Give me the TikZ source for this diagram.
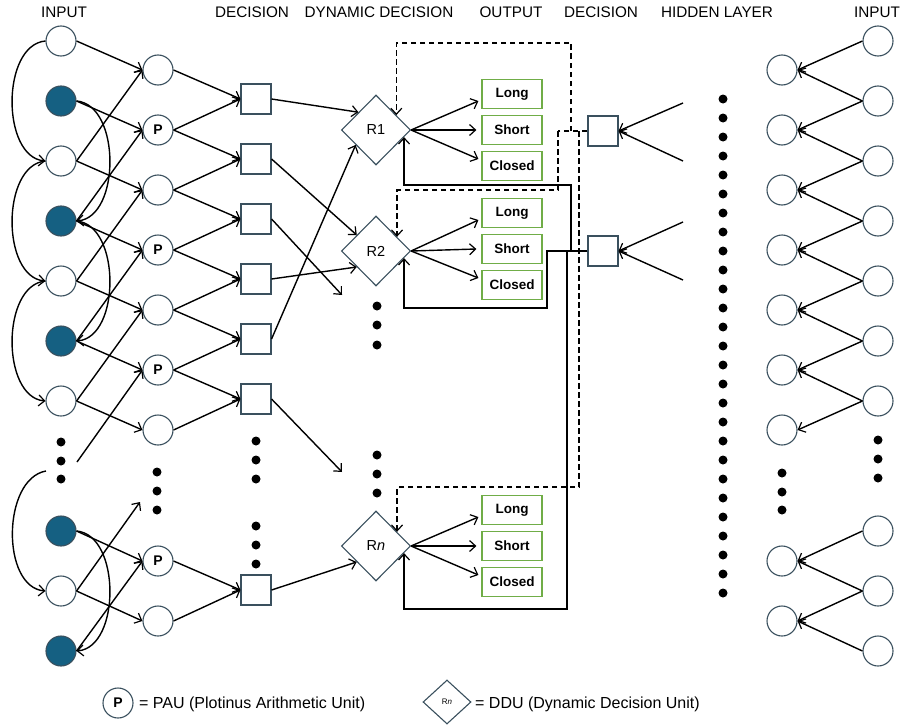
\documentclass[tikz,border=0pt]{standalone}
\usepackage{fontspec}
\setmainfont{Liberation Sans}
\usetikzlibrary{shapes.geometric,arrows.meta,calc}
\definecolor{ol}{RGB}{58,80,94}
\definecolor{tealf}{RGB}{21,96,130}
\definecolor{grn}{RGB}{112,173,71}
\begin{document}
\begin{tikzpicture}[x=1pt,y=-1pt,
  nd/.style={circle,draw=ol,line width=1.1pt,minimum size=30pt,inner sep=0pt,fill=white,font=\bfseries\fontsize{14}{14}\selectfont},
  nf/.style={nd,fill=tealf},
  sqn/.style={rectangle,draw=ol,line width=1.1pt,minimum size=30pt,inner sep=0pt,fill=white},
  ddu/.style={diamond,draw=ol,line width=1.1pt,minimum width=69pt,minimum height=70pt,inner sep=0pt,fill=white,font=\fontsize{14.5}{14.5}\selectfont},
  obox/.style={rectangle,draw=grn,line width=1.2pt,minimum width=60pt,minimum height=29pt,inner sep=0pt,font=\bfseries\fontsize{13.5}{13.5}\selectfont},
  bdot/.style={circle,fill=black,minimum size=9pt,inner sep=0pt},
  hdr/.style={font=\fontsize{15.3}{15.3}\selectfont,inner sep=0pt},
  lgt/.style={font=\fontsize{16}{16}\selectfont,inner sep=0pt},
  arr/.style={-{Straight Barb[length=6pt,width=11pt,line width=1.2pt]},line width=1.4pt},
  dline/.style={line width=1.4pt,dash pattern=on 5.5pt off 3.5pt},
  fbd/.style={arr,dash pattern=on 5.5pt off 3.5pt}
]
\useasboundingbox (0,0) rectangle (904,725);

% headers
\node[hdr] (h1) at (64,12) {INPUT};
\node[hdr] (h2) at (252,12) {DECISION};
\node[hdr] (h3) at (379,12) {DYNAMIC DECISION};
\node[hdr] (h4) at (511,12) {OUTPUT};
\node[hdr] (h5) at (601,12) {DECISION};
\node[hdr] (h6) at (717,12) {HIDDEN LAYER};
\node[hdr] (h7) at (877,12) {INPUT};

% left input column
\foreach \n/\y/\s in {1/41/nd,2/101/nf,3/161/nd,4/221/nf,5/281/nd,6/341/nf,7/401/nd,8/531/nf,9/591/nd,10/651/nf}
  \node[\s] (L\n) at (61,\y) {};
\foreach \k/\y in {1/442,2/461,3/479} \node[bdot] (ld\k) at (61,\y) {};

% second column
\foreach \n/\y/\t in {1/70/,2/130/P,3/190/,4/250/P,5/310/,6/370/P,7/430/,8/561/P,9/621/}
  \node[nd] (C\n) at (158,\y) {\t};
\foreach \k/\y in {1/472,2/491,3/510} \node[bdot] (cd\k) at (157,\y) {};

% squares
\foreach \n/\y in {1/99,2/159,3/219,4/279,5/339,6/399,7/590}
  \node[sqn] (S\n) at (256,\y) {};
\foreach \k/\y in {1/441,2/460,3/479,4/526,5/545,6/564} \node[bdot] (sd\k) at (256,\y) {};

% diamonds
\node[ddu] (R1) at (376,130) {R1};
\node[ddu] (R2) at (376,251) {R2};
\node[ddu] (Rn) at (376,546) {R\textit{n}};
\foreach \k/\y in {1/306,2/325,3/345,4/455,5/474,6/493} \node[bdot] (rd\k) at (377,\y) {};

% output boxes
\foreach \g/\y in {1/94,2/213,3/510}{
  \node[obox] (ol\g) at (512,\y) {Long};
  \node[obox] (os\g) at (512,\y+36) {Short};
  \node[obox] (oc\g) at (512,\y+72) {Closed};
}

% right decision squares
\node[sqn] (D1) at (603,131) {};
\node[sqn] (D2) at (603,251) {};

% hidden layer dots
\foreach \k in {0,...,26} \node[bdot] (hd\k) at (723,{99+19*\k}) {};

% right input columns
\foreach \n/\y in {1/41,2/101,3/161,4/221,5/281,6/341,7/401,8/531,9/591,10/651}
  \node[nd] (RR\n) at (878,\y) {};
\foreach \n/\y in {1/70,2/130,3/190,4/250,5/310,6/370,7/430,8/561,9/621}
  \node[nd] (RL\n) at (782,\y) {};
\foreach \k/\y in {1/440,2/459,3/478} \node[bdot] (rrd\k) at (878,\y) {};
\foreach \k/\y in {1/473,2/492,3/510} \node[bdot] (rld\k) at (782,\y) {};

% ---- connectors ----
% left column -> second column
\foreach \a/\b in {1/1,2/2,3/3,3/1,4/4,4/2,5/5,5/3,6/6,6/4,7/7,7/5,8/8,9/9,10/8}
  \draw[arr] (L\a.east) -- (C\b.west);
\coordinate (dl) at (77,462);
\coordinate (dc) at (140,502);
\draw[arr] (dl) -- (C6.west);
\draw[arr] (L9.east) -- (dc);

% left loops
\foreach \a/\b in {1/3,3/5,5/7}
  \draw[arr] (L\a.west) to[out=185,in=175,looseness=0.95] (L\b.west);
\coordinate (dstart) at (46,471);
\draw[arr] (dstart) to[out=190,in=175,looseness=0.95] (L9.west);
\foreach \a/\b in {2/4,4/6,8/10}
  \draw[arr] (L\a.east) to[out=-5,in=5,looseness=0.95] (L\b.east);

% second column -> squares
\foreach \a/\b in {1/1,2/1,2/2,3/2,3/3,4/3,4/4,5/4,5/5,6/5,6/6,7/6,8/7,9/7}
  \draw[arr] (C\a.east) -- (S\b.west);

% squares -> diamonds
\coordinate (e3) at (342,295);
\coordinate (e6) at (342,472);
\draw[arr] (S1.east) -- ($(R1.west)!0.5!(R1.north)$);
\draw[arr] (S2.east) -- ($(R2.west)!0.45!(R2.north)$);
\draw[arr] (S3.east) -- (e3);
\draw[arr] (S4.east) -- ($(R2.west)!0.45!(R2.south)$);
\draw[arr] (S5.east) -- ($(R1.west)!0.42!(R1.south)$);
\draw[arr] (S6.east) -- (e6);
\draw[arr] (S7.east) -- ($(Rn.west)!0.45!(Rn.south)$);

% diamonds -> outputs
\foreach \r/\g in {R1/1,R2/2,Rn/3}{
  \draw[arr] (\r.east) -- ([shift={(-3,7)}]ol\g.west);
  \draw[arr] (\r.east) -- ([shift={(-5,0)}]os\g.west);
  \draw[arr] (\r.east) -- ([shift={(-3,-7)}]oc\g.west);
}

% dashed feedback from D1
\coordinate (j1) at (571,131);
\coordinate (j2) at (558,131);
\coordinate (j3) at (579,131);
\coordinate (t1) at ($(R1.north)!0.58!(R1.east)$);
\coordinate (t2) at ($(R2.north)!0.6!(R2.east)$);
\coordinate (tn) at ($(Rn.north)!0.6!(Rn.east)$);
\draw[dline] (D1.west) -- (j2);
\draw[fbd] (j1) -- (571,43) -| (t1);
\draw[fbd] (j2) -- (558,190) -| (t2);
\draw[fbd] (j3) -- (579,487) -| (tn);

% solid feedback from D2
\coordinate (b1) at ($(R1.south)!0.8!(R1.east)$);
\coordinate (b2) at ($(R2.south)!0.8!(R2.east)$);
\coordinate (bn) at ($(Rn.south)!0.8!(Rn.east)$);
\draw[arr] (D2.west) -- (571,251) -- (571,185) -| (b1);
\draw[arr] (D2.west) -- (547,251) -- (547,308) -| (b2);
\draw[arr] (D2.west) -- (567,251) -- (567,609) -| (bn);

% hidden layer -> decision squares
\coordinate (i1) at (683,103);
\coordinate (i2) at (683,161);
\coordinate (i3) at (683,222);
\coordinate (i4) at (683,280);
\draw[arr] (i1) -- (D1.east);
\draw[arr] (i2) -- (D1.east);
\draw[arr] (i3) -- (D2.east);
\draw[arr] (i4) -- (D2.east);

% right input connections
\foreach \a/\b in {1/1,2/1,2/2,3/2,3/3,4/3,4/4,5/4,5/5,6/5,6/6,7/6,7/7,8/8,9/8,9/9,10/9}
  \draw[arr] (RR\a.west) -- (RL\b.east);

% legend
\node[nd] (lgP) at (118,703) {P};
\node[lgt,anchor=west] (lgPt) at (139,704) {= PAU (Plotinus Arithmetic Unit)};
\node[diamond,draw=ol,line width=1.1pt,minimum width=48pt,minimum height=44pt,inner sep=0pt,font=\fontsize{8}{8}\selectfont] (lgD) at (447,702) {R\textit{n}};
\node[lgt,anchor=west] (lgDt) at (475,704) {= DDU (Dynamic Decision Unit)};
\end{tikzpicture}
\end{document}
